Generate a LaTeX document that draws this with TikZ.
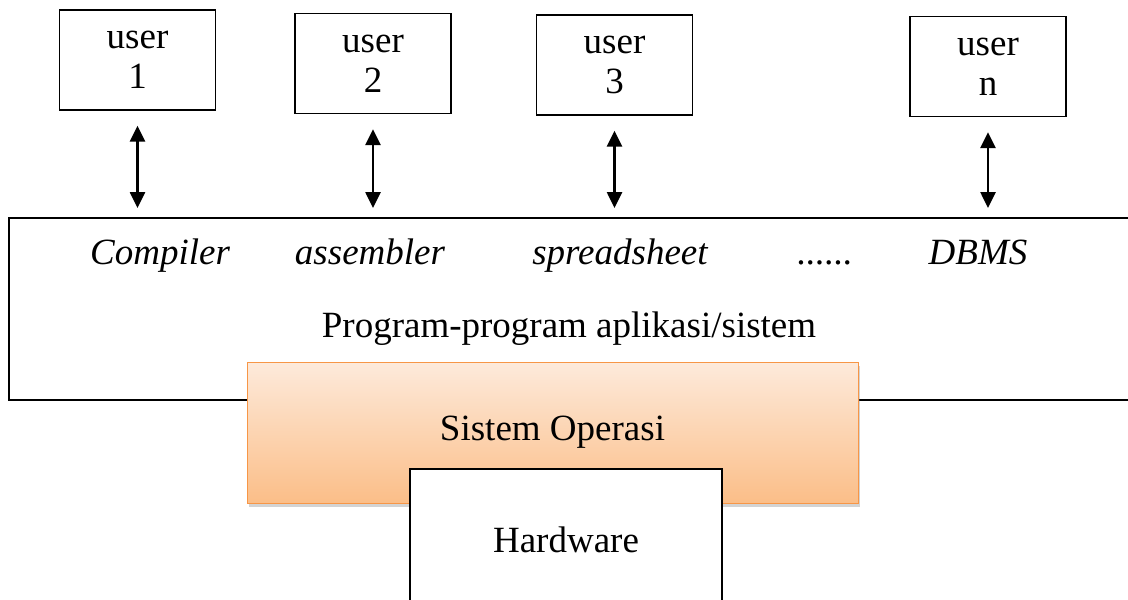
\documentclass[tikz,border=0pt]{standalone}
\usepackage{fontspec}
\setmainfont{Liberation Serif}
\usetikzlibrary{positioning}
\usetikzlibrary{arrows.meta}
\usetikzlibrary{shadows}

\definecolor{osTop}{HTML}{FDEADB}
\definecolor{osBottom}{HTML}{FBBE88}
\definecolor{osLine}{HTML}{F79646}

\tikzset{
  bigtext/.style={font=\fontsize{37}{40}\selectfont},
  userbox/.style={draw, line width=1.3pt, minimum width=156pt, minimum height=100pt, align=center, inner sep=0pt, bigtext},
  apptext/.style={anchor=base, bigtext, font=\fontsize{37}{40}\selectfont\itshape},
  duplex/.style={{Triangle[length=16pt,width=15pt]}-{Triangle[length=16pt,width=15pt]}, line width=2.6pt, shorten <=15pt, shorten >=9pt}
}

\begin{document}
\begin{tikzpicture}[x=1pt,y=-1pt]
      \useasboundingbox (0,0) rectangle (1128,600);
      \clip (0,0) rectangle (1128,600);

      \node[draw, line width=1.8pt, minimum width=1140pt, minimum height=182pt, anchor=north west] (apps) at (8,217){};
      \node[apptext] (comp) at (160,264){Compiler};
      \node[apptext] (asm) at (370,264){assembler};
      \node[apptext] (sheet) at (620,264){spreadsheet};
      \node[apptext] (dots) at (825,264){......};
      \node[apptext] (dbms) at (978,264){DBMS};
      \node[anchor=base, bigtext] (prog) at (569,337){Program-program aplikasi/sistem};

      \node[userbox] (u1) at (137.5,60){user\\1};
      \node[userbox] (u2) at (373,63.5){user\\2};
      \node[userbox] (u3) at (614.5,65){user\\3};
      \node[userbox] (un) at (988,66.5){user\\n};

      \draw[duplex] (u1.south) -- (u1.south |- apps.north);
      \draw[duplex] (u2.south) -- (u2.south |- apps.north);
      \draw[duplex] (u3.south) -- (u3.south |- apps.north);
      \draw[duplex] (un.south) -- (un.south |- apps.north);

      \node[draw=osLine, line width=1pt, top color=osTop, bottom color=osBottom,
            drop shadow={shadow xshift=2pt, shadow yshift=-4pt, opacity=0.35},
            minimum width=611pt, minimum height=141pt, bigtext] (os) at (552.5,432.5){Sistem Operasi};
      \node[draw, fill=white, line width=1.5pt, minimum width=312pt, minimum height=142pt, bigtext] (hw) at (566,540){Hardware};
    \end{tikzpicture}
\end{document}
